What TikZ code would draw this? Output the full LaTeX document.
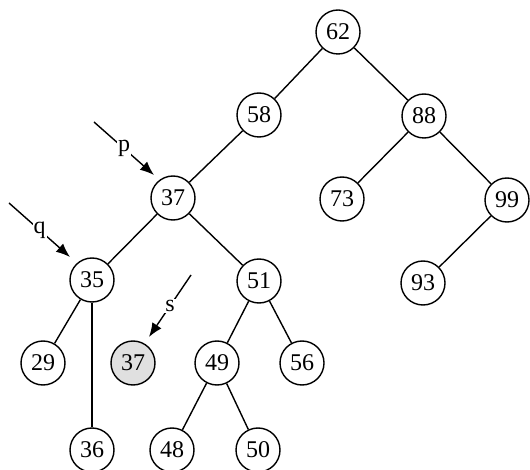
\documentclass[tikz,border=0pt]{standalone}
\usepackage{fontspec}
\setmainfont{Liberation Serif}
\usetikzlibrary{positioning, arrows.meta}

\begin{document}
\begin{tikzpicture}[x=1pt, y=-1pt, line width=1.4pt,
    key/.style={circle, draw, minimum size=44pt, inner sep=0pt, font=\fontsize{24}{28}\selectfont},
    ptr/.style={-{Latex[length=14pt, width=11pt]}},
    ptrlabel/.style={fill=white, inner sep=1pt, font=\fontsize{24}{28}\selectfont}]
    \useasboundingbox (0,0) rectangle (530,470);

    % Tree nodes
    \node[key] (n62) at (338,32) {62};
    \node[key] (n58) at (259,115) {58};
    \node[key] (n88) at (424,116) {88};
    \node[key] (n73) at (342,199) {73};
    \node[key] (n99) at (507,200) {99};
    \node[key] (n37) at (173,198) {37};
    \node[key] (n93) at (423,283) {93};
    \node[key] (n35) at (92,280) {35};
    \node[key] (n51) at (259,281) {51};
    \node[key] (n29) at (43,363) {29};
    \node[key, fill=black!12] (s37) at (133,363) {37};
    \node[key] (n49) at (217,363) {49};
    \node[key] (n56) at (302,363) {56};
    \node[key] (n36) at (92,450) {36};
    \node[key] (n48) at (172,450) {48};
    \node[key] (n50) at (258,450) {50};

    % Edges
    \draw (n62) -- (n58);
    \draw (n62) -- (n88);
    \draw (n58) -- (n37);
    \draw (n88) -- (n73);
    \draw (n88) -- (n99);
    \draw (n99) -- (n93);
    \draw (n37) -- (n35);
    \draw (n37) -- (n51);
    \draw (n35) -- (n29);
    \draw (n35) -- (n36);
    \draw (n51) -- (n49);
    \draw (n51) -- (n56);
    \draw (n49) -- (n48);
    \draw (n49) -- (n50);

    % Pointers
    \coordinate (pstart) at (94,122);
    \coordinate (pend) at (154,175);
    \coordinate (qstart) at (9,203);
    \coordinate (qend) at (70,257);
    \coordinate (sstart) at (191,275);
    \coordinate (send) at (149,337);
    \draw[ptr] (pstart) -- node[ptrlabel] (plabel) {p} (pend);
    \draw[ptr] (qstart) -- node[ptrlabel] (qlabel) {q} (qend);
    \draw[ptr] (sstart) -- node[ptrlabel] (slabel) {s} (send);
\end{tikzpicture}
\end{document}
